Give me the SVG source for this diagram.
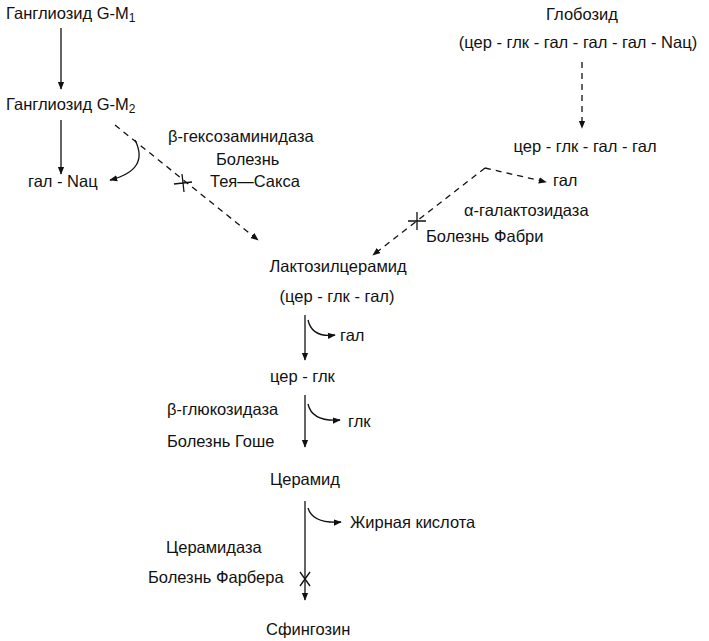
<svg xmlns="http://www.w3.org/2000/svg" width="709" height="641" viewBox="0 0 709 641">
<style>
text{font-family:"Liberation Sans",Arial,sans-serif;font-size:16.5px;fill:#111}
.s{stroke:#111;stroke-width:1.3;fill:none}
.d{stroke-dasharray:6,5}
</style>
<defs>
<marker id="a" viewBox="0 0 10 10" refX="9" refY="5" markerWidth="8" markerHeight="8" markerUnits="userSpaceOnUse" orient="auto"><path d="M0,1L10,5L0,9z" fill="#111"/></marker>
</defs>
<rect width="709" height="641" fill="#fff"/>
<g id="gm1"><text x="6" y="19">Ганглиозид G-M<tspan font-size="12" dy="3">1</tspan></text></g>
<g id="gm2"><text x="6" y="110">Ганглиозид G-M<tspan font-size="12" dy="3">2</tspan></text></g>
<g id="galnac"><text x="28" y="187">гал - Nац</text></g>
<g id="hex"><text x="168" y="142">β-гексозаминидаза</text><text x="216" y="165">Болезнь</text><text x="210" y="187">Тея—Сакса</text></g>
<g id="glob"><text x="582" y="20" text-anchor="middle">Глобозид</text><text x="578" y="48" text-anchor="middle">(цер - глк - гал - гал - гал - Nац)</text></g>
<g id="cgggg"><text x="585" y="152" text-anchor="middle">цер - глк - гал - гал</text></g>
<g id="gal1"><text x="553" y="186">гал</text></g>
<g id="agal"><text x="464" y="216">α-галактозидаза</text><text x="426" y="242">Болезнь Фабри</text></g>
<g id="lac"><text x="338" y="272" text-anchor="middle">Лактозилцерамид</text><text x="337" y="302" text-anchor="middle">(цер - глк - гал)</text></g>
<g id="gal2"><text x="340" y="341">гал</text></g>
<g id="cg"><text x="270" y="382">цер - глк</text></g>
<g id="bglu"><text x="167" y="415">β-глюкозидаза</text><text x="167" y="447">Болезнь Гоше</text></g>
<g id="glk"><text x="348" y="427">глк</text></g>
<g id="cer"><text x="270" y="485">Церамид</text></g>
<g id="fa"><text x="350" y="528">Жирная кислота</text></g>
<g id="cerase"><text x="166" y="553">Церамидаза</text><text x="148" y="583">Болезнь Фарбера</text></g>
<g id="sph"><text x="266" y="635">Сфингозин</text></g>
<g id="connectors">
<line class="s" x1="61" y1="28" x2="61" y2="89" marker-end="url(#a)"/>
<line class="s" x1="61" y1="120" x2="61" y2="174" marker-end="url(#a)"/>
<path class="s" d="M135,140 Q150,170 110,180" marker-end="url(#a)"/>
<line class="s d" x1="115" y1="125" x2="258" y2="240" marker-end="url(#a)"/>
<path class="s" d="M174,184 L192,182 M182,174 L184,192"/>
<line class="s d" x1="582" y1="62" x2="582" y2="128" marker-end="url(#a)"/>
<line class="s d" x1="485" y1="168" x2="373" y2="255" marker-end="url(#a)"/>
<line class="s d" x1="485" y1="168" x2="546" y2="182" marker-end="url(#a)"/>
<path class="s" d="M408,221 L426,221 M417,212 L417,230"/>
<line class="s" x1="305" y1="315" x2="305" y2="360" marker-end="url(#a)"/>
<path class="s" d="M308,320 Q312,338 335,335" marker-end="url(#a)"/>
<line class="s" x1="305" y1="395" x2="305" y2="447" marker-end="url(#a)"/>
<path class="s" d="M308,404 Q312,422 340,420" marker-end="url(#a)"/>
<line class="s" x1="305" y1="501" x2="305" y2="600" marker-end="url(#a)"/>
<path class="s" d="M308,508 Q313,524 341,522" marker-end="url(#a)"/>
<path class="s" d="M300,572 L310,586 M310,572 L300,586"/>
</g>
</svg>
